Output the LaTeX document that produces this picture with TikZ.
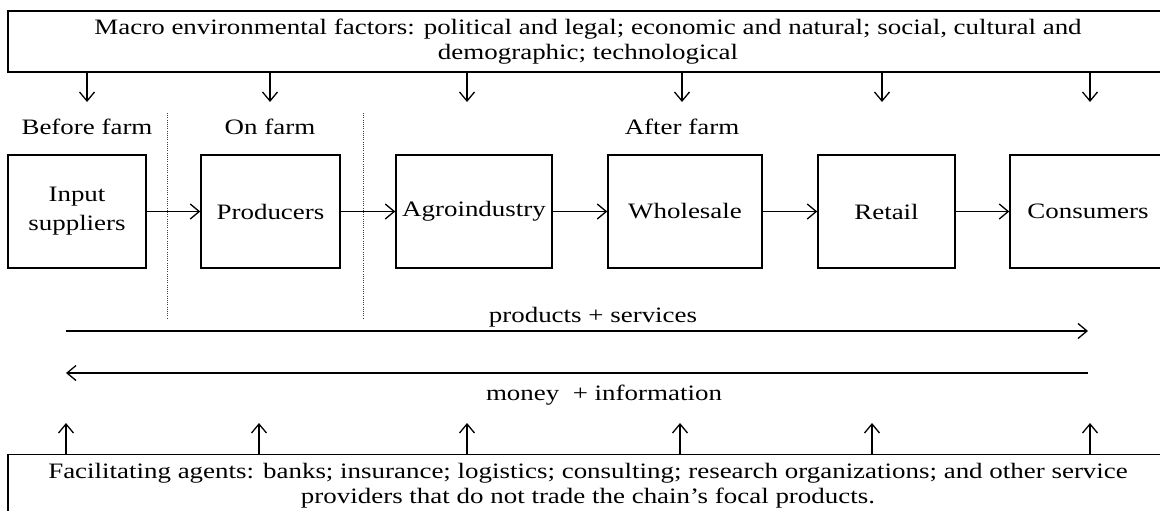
\documentclass[tikz,border=0pt]{standalone}
\usepackage{fontspec}
\setmainfont{Liberation Serif}[FakeStretch=1.225]
\usetikzlibrary{arrows.meta}
\begin{document}
\begin{tikzpicture}[x=1pt,y=-1pt,
  every node/.style={font=\fontsize{22}{25}\selectfont, inner sep=0pt},
  frame/.style={draw, line width=1.5pt, align=center},
  stage/.style={frame, minimum height=113pt},
  flow/.style={line width=1.3pt, -{Straight Barb[length=9pt,width=15pt,line width=1.3pt]}},
  divider/.style={line width=0.9pt, dash pattern=on 1pt off 1.2pt, black!75},
  caption/.style={anchor=base}]
\useasboundingbox (0,0) rectangle (1160,511);

% environment box on top, facilitators at the bottom
\node[frame, minimum width=1160pt, minimum height=61pt] (macro) at (588,41.5)
  {Macro environmental factors: political and legal; economic and natural; social, cultural and\\demographic; technological};
\node[frame, anchor=north, minimum width=1160pt, inner ysep=9pt] (facil) at (588,453.5)
  {Facilitating agents: banks; insurance; logistics; consulting; research organizations; and other service\\providers that do not trade the chain’s focal products.};

% chain stages
\node[stage, minimum width=138pt] (input) at (77,211.5) {Input\\[4pt]suppliers};
\node[stage, minimum width=139pt] (prod)  at (270.5,211.5) {Producers};
\node[stage, minimum width=156pt] (agro)  at (474,211.5) {Agroindustry};
\node[stage, minimum width=154pt] (whole) at (685,211.5) {Wholesale};
\node[stage, minimum width=137pt] (retail) at (886.5,211.5) {Retail};
\node[stage, minimum width=156pt] (cons)  at (1088,211.5) {Consumers};

\draw[flow] (input) -- (prod);
\draw[flow] (prod) -- (agro);
\draw[flow] (agro) -- (whole);
\draw[flow] (whole) -- (retail);
\draw[flow] (retail) -- (cons);

% stage headings
\node[caption] (before) at (87,135) {Before farm};
\node[caption] (onfarm) at (270,135) {On farm};
\node[caption] (after)  at (682,135) {After farm};

% dotted separators
\coordinate (s1t) at (167,113); \coordinate (s1b) at (167,318);
\coordinate (s2t) at (363,113); \coordinate (s2b) at (363,318);
\draw[divider] (s1t) -- (s1b);
\draw[divider] (s2t) -- (s2b);

% influences from the environment
\foreach \i/\x in {1/87,2/270,3/467,4/682,5/882,6/1090}{
  \coordinate (d\i) at (\x,102);
  \draw[flow] (macro.south -| d\i) -- (d\i);
}

% support from facilitating agents
\foreach \i/\x in {1/66,2/259,3/467,4/680,5/872,6/1090}{
  \coordinate (u\i) at (\x,423);
  \draw[flow] (facil.north -| u\i) -- (u\i);
}

% flows along the chain
\coordinate (pl) at (66,331); \coordinate (pr) at (1088,331);
\coordinate (ml) at (66,373); \coordinate (mr) at (1088,373);
\draw[flow] (pl) -- (pr);
\draw[flow] (mr) -- (ml);
\node[caption] (prodlabel)  at (593,322) {products + services};
\node[caption] (moneylabel) at (604,400) {money\ \ + information};
\end{tikzpicture}
\end{document}
